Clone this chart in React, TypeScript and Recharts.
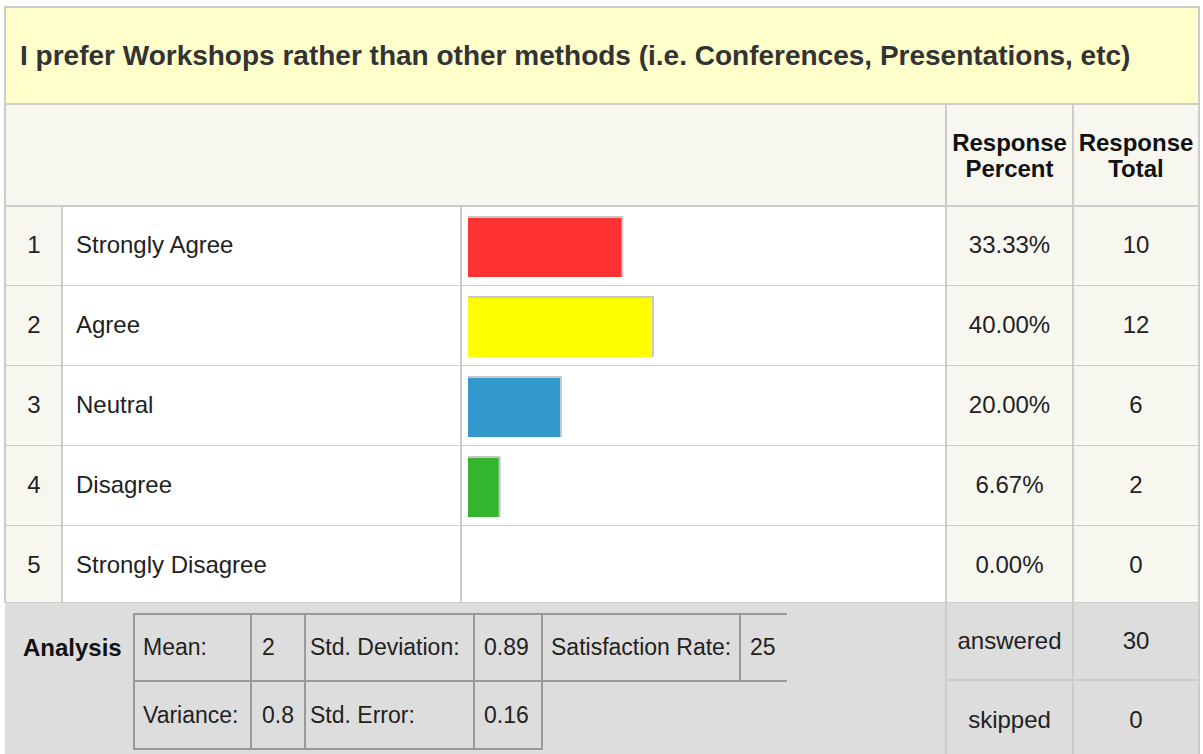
import React from 'react';
import { BarChart, Bar, XAxis, YAxis, Cell } from 'recharts';

const questionTitle =
  'I prefer Workshops rather than other methods (i.e. Conferences, Presentations, etc)';
const choiceNumbers = [1, 2, 3, 4, 5];
const choiceLabels = ['Strongly Agree', 'Agree', 'Neutral', 'Disagree', 'Strongly Disagree'];
const responsePercents = [33.33, 40.0, 20.0, 6.67, 0.0];
const responseTotals = [10, 12, 6, 2, 0];
const barColors = ['#FF3333', '#FFFF00', '#3399CC', '#33B52E', '#CCCCCC'];

const analysisRow1 = [
  ['Mean:', '2'],
  ['Std. Deviation:', '0.89'],
  ['Satisfaction Rate:', '25'],
];
const analysisRow2 = [
  ['Variance:', '0.8'],
  ['Std. Error:', '0.16'],
];
const answeredCount = 30;
const skippedCount = 0;

const FONT = '"Liberation Sans", Arial, Helvetica, sans-serif';
const LINE = '#cccccc';
const INNER_LINE = '#999999';
const ROW_TOP = 205;
const ROW_H = 80;

const chartData = choiceLabels.map((label, i) => ({
  label,
  percent: responsePercents[i],
}));

// rect with gray top/right edge, like the survey tool's bar image
const ShadowBar = (props: any) => {
  const { x, y, width, height, fill, index } = props;
  if (!width || width <= 0) return null;
  return (
    <g>
      <rect x={x} y={y} width={width + 2} height={height} fill="#c8c8c8" />
      <rect x={x} y={y + 2} width={width} height={height - 2} fill={fill || barColors[index]} />
    </g>
  );
};

function Box({ l, t, w, h, bg }: { l: number; t: number; w: number; h: number; bg: string }) {
  return <div style={{ position: 'absolute', left: l, top: t, width: w, height: h, background: bg }} />;
}

function Txt({
  l, t, w, h, children, align = 'left', bold = false, size = 24, color = '#222', lh,
}: any) {
  return (
    <div
      style={{
        position: 'absolute',
        left: l,
        top: t,
        width: w,
        height: h,
        display: 'flex',
        alignItems: 'center',
        justifyContent: align === 'center' ? 'center' : 'flex-start',
        textAlign: align,
        fontFamily: FONT,
        fontSize: size,
        fontWeight: bold ? 'bold' : 'normal',
        color,
        lineHeight: lh ? `${lh}px` : 'normal',
        whiteSpace: 'pre',
      }}
    >
      {children}
    </div>
  );
}

export default function App() {
  const rows = choiceLabels.map((label, i) => {
    const top = ROW_TOP + i * ROW_H;
    return (
      <React.Fragment key={label}>
        <Txt l={6} t={top} w={56} h={ROW_H} align="center">{choiceNumbers[i]}</Txt>
        <Txt l={76} t={top} w={380} h={ROW_H}>{label}</Txt>
        <Txt l={947} t={top} w={125} h={ROW_H} align="center">{responsePercents[i].toFixed(2)}%</Txt>
        <Txt l={1074} t={top} w={124} h={ROW_H} align="center">{responseTotals[i]}</Txt>
      </React.Fragment>
    );
  });

  return (
    <div style={{ position: 'absolute', left: 0, top: 0, width: 1203, height: 754, overflow: 'hidden', background: '#fff' }}>
      {/* backgrounds */}
      <Box l={4} t={6} w={1196} h={99} bg="#FFFFCC" />
      <Box l={4} t={105} w={1196} h={100} bg="#F7F7F0" />
      <Box l={4} t={205} w={58} h={398} bg="#F7F7F0" />
      <Box l={945} t={205} w={255} h={398} bg="#F7F7F0" />
      <Box l={5} t={603} w={1195} h={160} bg="#DDDDDD" />

      {/* outer and row lines */}
      <Box l={4} t={6} w={1196} h={2} bg={LINE} />
      <Box l={4} t={6} w={2} h={597} bg={LINE} />
      <Box l={1198} t={6} w={2} h={760} bg={LINE} />
      <Box l={4} t={103} w={1196} h={2} bg={LINE} />
      <Box l={4} t={205} w={1196} h={2} bg={LINE} />
      {[1, 2, 3, 4].map((k) => (
        <Box key={k} l={4} t={ROW_TOP + k * ROW_H} w={1196} h={1} bg={LINE} />
      ))}
      <Box l={4} t={602} w={1196} h={1} bg={LINE} />
      <Box l={61} t={205} w={2} h={398} bg={LINE} />
      <Box l={460} t={205} w={2} h={398} bg={LINE} />
      <Box l={945} t={103} w={2} h={660} bg={LINE} />
      <Box l={1072} t={103} w={2} h={660} bg={LINE} />
      <Box l={945} t={679} w={255} h={2} bg={LINE} />

      {/* analysis table lines */}
      <Box l={133} t={613} w={654} h={2} bg={INNER_LINE} />
      <Box l={133} t={680} w={654} h={2} bg={INNER_LINE} />
      <Box l={133} t={748} w={410} h={2} bg={INNER_LINE} />
      {[133, 250, 304, 473, 541].map((x) => (
        <Box key={x} l={x} t={613} w={2} h={137} bg={INNER_LINE} />
      ))}
      <Box l={739} t={613} w={2} h={69} bg={INNER_LINE} />

      {/* title and headers */}
      <Txt l={20} t={8} w={1175} h={95} bold size={28} color="#333">{questionTitle}</Txt>
      <Txt l={947} t={107} w={125} h={98} align="center" bold lh={26} color="#111">{'Response\nPercent'}</Txt>
      <Txt l={1074} t={107} w={124} h={98} align="center" bold lh={26} color="#111">{'Response\nTotal'}</Txt>

      {rows}

      {/* analysis */}
      <Txt l={23} t={614} w={105} h={67} bold color="#111">Analysis</Txt>
      {analysisRow1.map(([k, v], j) => {
        const xs = [[143, 262], [310, 484], [551, 750]][j];
        return (
          <React.Fragment key={k}>
            <Txt l={xs[0]} t={614} w={200} h={67} size={23}>{k}</Txt>
            <Txt l={xs[1]} t={614} w={60} h={67} size={23}>{v}</Txt>
          </React.Fragment>
        );
      })}
      {analysisRow2.map(([k, v], j) => {
        const xs = [[143, 262], [310, 484]][j];
        return (
          <React.Fragment key={k}>
            <Txt l={xs[0]} t={682} w={200} h={66} size={23}>{k}</Txt>
            <Txt l={xs[1]} t={682} w={60} h={66} size={23}>{v}</Txt>
          </React.Fragment>
        );
      })}
      <Txt l={947} t={603} w={125} h={76} align="center">answered</Txt>
      <Txt l={1074} t={603} w={124} h={76} align="center">{answeredCount}</Txt>
      <Txt l={947} t={681} w={125} h={77} align="center">skipped</Txt>
      <Txt l={1074} t={681} w={124} h={77} align="center">{skippedCount}</Txt>

      {/* bars */}
      <div style={{ position: 'absolute', left: 468, top: 206 }}>
        <BarChart
          layout="vertical"
          width={470}
          height={400}
          data={chartData}
          margin={{ top: 0, right: 10, bottom: 0, left: 0 }}
        >
          <XAxis type="number" domain={[0, 100]} hide />
          <YAxis type="category" dataKey="label" hide />
          <Bar dataKey="percent" barSize={61} shape={ShadowBar} isAnimationActive={false}>
            {chartData.map((d, i) => (
              <Cell key={d.label} fill={barColors[i]} />
            ))}
          </Bar>
        </BarChart>
      </div>
    </div>
  );
}
